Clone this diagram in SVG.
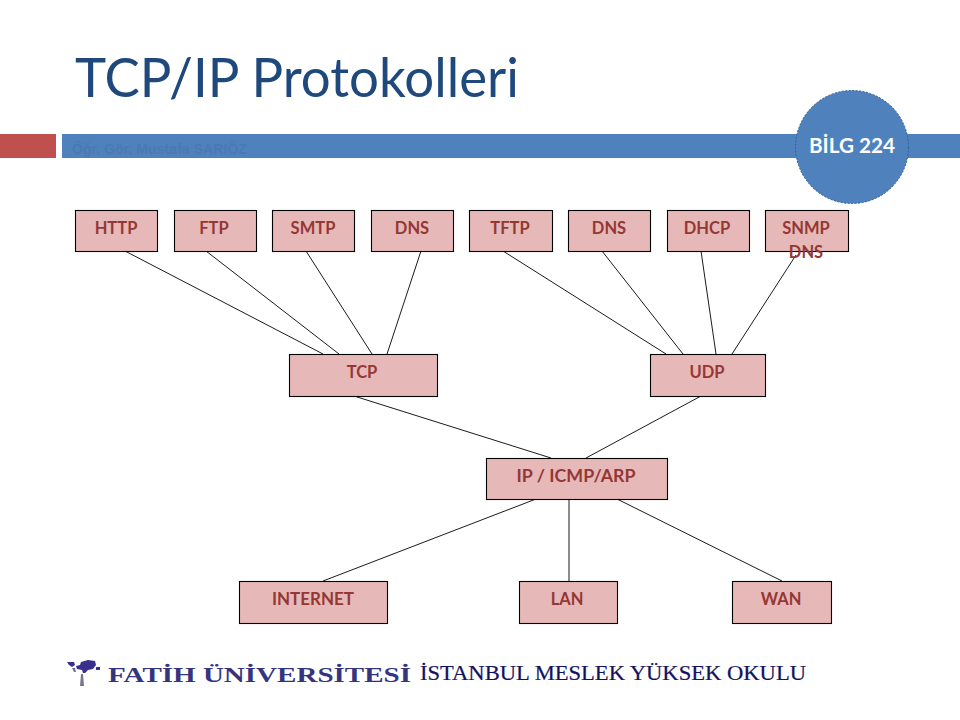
<svg xmlns="http://www.w3.org/2000/svg" width="960" height="720" viewBox="0 0 960 720">
<style>
.n{fill:#e6b9b8;stroke:#000;stroke-width:1.1}
.t{font-family:"Lato","Carlito","Liberation Sans",sans-serif;font-weight:700;font-size:16.500px;fill:#953735;text-anchor:middle}
#connectors line{stroke:#000;stroke-width:.9}
.f{font-family:"Liberation Serif",serif;font-weight:700;fill:#35347f}
.b{fill:#3a2f8f}
</style>
<rect width="960" height="720" fill="#fff"/>
<text id="title" x="75" y="97" font-family="Lato,Carlito,'Liberation Sans',sans-serif" font-size="55" fill="#1f497d" textLength="444" lengthAdjust="spacingAndGlyphs">TCP/IP Protokolleri</text>
<rect x="0" y="134" width="56" height="24" fill="#c0504d"/>
<rect x="62" y="134" width="898" height="24" fill="#4f81bd"/>
<text x="72" y="154" font-family="'Liberation Sans',sans-serif" font-size="14.500" font-weight="700" fill="#4a79b3" textLength="175" lengthAdjust="spacingAndGlyphs">Öğr. Gör. Mustafa SARIÖZ</text>
<g id="badge"><circle cx="852" cy="147" r="56.500" fill="#4f81bd" stroke="#2f5f97" stroke-width="1" stroke-dasharray="2 1.500"/>
<text x="852" y="153" font-family="Lato,Carlito,'Liberation Sans',sans-serif" font-weight="700" font-size="20" fill="#fff" text-anchor="middle" textLength="86" lengthAdjust="spacingAndGlyphs">BİLG 224</text></g>
<g id="connectors">
<line x1="125" y1="251" x2="323" y2="354"/>
<line x1="206" y1="251" x2="339" y2="354"/>
<line x1="306" y1="251" x2="372" y2="354"/>
<line x1="421" y1="251" x2="387" y2="354"/>
<line x1="503" y1="251" x2="666" y2="354"/>
<line x1="602" y1="251" x2="683" y2="354"/>
<line x1="701" y1="251" x2="716" y2="354"/>
<line x1="796" y1="255" x2="732" y2="354"/>
<line x1="354" y1="396" x2="551" y2="458"/>
<line x1="701" y1="396" x2="586" y2="458"/>
<line x1="536" y1="499" x2="323" y2="581"/>
<line x1="569" y1="499" x2="569" y2="581"/>
<line x1="617" y1="499" x2="782" y2="581"/>
</g>
<g id="http"><rect class="n" x="75.500" y="210.500" width="82" height="41"/><text class="t" x="116" y="234">HTTP</text></g>
<g id="ftp"><rect class="n" x="174.500" y="210.500" width="82" height="41"/><text class="t" x="214" y="234">FTP</text></g>
<g id="smtp"><rect class="n" x="272.500" y="210.500" width="82" height="41"/><text class="t" x="313" y="234">SMTP</text></g>
<g id="dns1"><rect class="n" x="371.500" y="210.500" width="82" height="41"/><text class="t" x="412" y="234">DNS</text></g>
<g id="tftp"><rect class="n" x="469.500" y="210.500" width="83" height="41"/><text class="t" x="510" y="234">TFTP</text></g>
<g id="dns2"><rect class="n" x="568.500" y="210.500" width="82" height="41"/><text class="t" x="609" y="234">DNS</text></g>
<g id="dhcp"><rect class="n" x="667.500" y="210.500" width="82" height="41"/><text class="t" x="707" y="234">DHCP</text></g>
<g id="snmp"><rect class="n" x="765.500" y="210.500" width="83" height="41"/><text class="t" x="806" y="234">SNMP</text><text class="t" x="806" y="258">DNS</text></g>
<g id="tcp"><rect class="n" x="289.500" y="354.500" width="148" height="42"/><text class="t" x="362" y="378">TCP</text></g>
<g id="udp"><rect class="n" x="650.500" y="354.500" width="115" height="42"/><text class="t" x="707" y="378">UDP</text></g>
<g id="ip"><rect class="n" x="486.500" y="458.500" width="181" height="41"/><text class="t" x="576" y="482" textLength="119" lengthAdjust="spacingAndGlyphs">IP / ICMP/ARP</text></g>
<g id="internet"><rect class="n" x="239.500" y="581.500" width="148" height="42"/><text class="t" x="313" y="605" textLength="82" lengthAdjust="spacingAndGlyphs">INTERNET</text></g>
<g id="lan"><rect class="n" x="519.500" y="581.500" width="98" height="42"/><text class="t" x="567" y="605">LAN</text></g>
<g id="wan"><rect class="n" x="732.500" y="581.500" width="99" height="42"/><text class="t" x="781" y="605">WAN</text></g>
<g id="logo">
<path class="b" d="M67 662l7 0 1 3-3 2-3-2z"/>
<path class="b" d="M76 666l4-1 1-3 7-2 7 1 1 4-3 4-5 1-3 3-2 0-1-3-5-1z"/>
<path class="b" d="M96 667h4v3h-4z"/>
<path d="M72 668l3 0 1 4-2 0z" fill="#6f6fa5"/>
<path d="M81 674l2 0 1 12-4 0z" fill="#77778f"/>
<text class="f" x="108" y="682" font-size="20" textLength="303" lengthAdjust="spacingAndGlyphs">FATİH ÜNİVERSİTESİ</text>
<text transform="translate(420 680) scale(1 1.100)" font-family="'Liberation Serif',serif" font-size="19" fill="#14125e" stroke="#14125e" stroke-width=".2" textLength="386" lengthAdjust="spacingAndGlyphs">İSTANBUL MESLEK YÜKSEK OKULU</text>
</g>
</svg>
